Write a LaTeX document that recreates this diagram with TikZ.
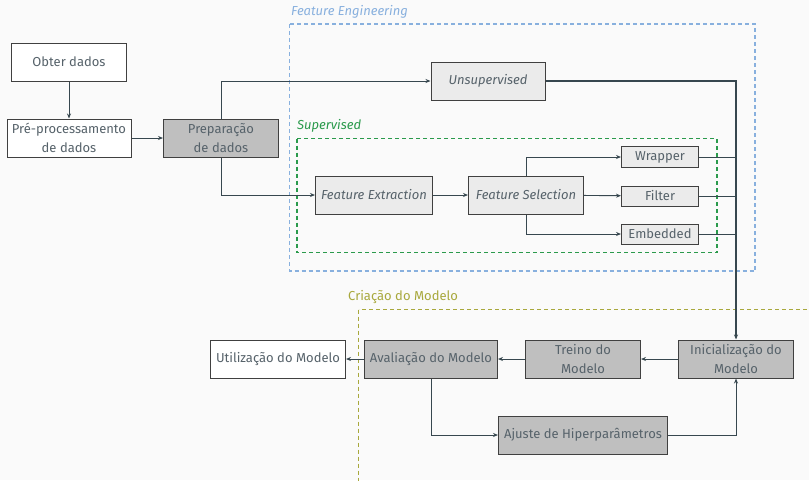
\documentclass[tikz,border=0pt]{standalone}
\usepackage{fontspec}
\setmainfont{Fira Sans}
\usetikzlibrary{arrows.meta}
\definecolor{bgc}{HTML}{FAFAFA}
\definecolor{txtc}{HTML}{56626A}
\definecolor{linec}{HTML}{37474F}
\definecolor{darkbox}{HTML}{BFBFBF}
\definecolor{lightbox}{HTML}{EBEBEB}
\definecolor{feblue}{HTML}{88B0DE}
\definecolor{supgreen}{HTML}{2A9A4C}
\definecolor{modolive}{HTML}{A8A83C}
\begin{document}
\begin{tikzpicture}[x=1pt, y=-1pt,
    every node/.style={font=\fontsize{13}{18.5}\selectfont, text=txtc},
    block/.style={draw=black!75, line width=1pt, align=center, inner sep=1pt,
                  minimum width=115pt, minimum height=38pt},
    plain/.style={block, fill=white},
    dark/.style={block, fill=darkbox},
    light/.style={block, fill=lightbox, font=\fontsize{13}{18.5}\selectfont\itshape},
    small/.style={block, fill=lightbox, minimum width=77pt, minimum height=20pt},
    conn/.style={draw=linec, line width=0.9pt},
    arr/.style={conn, -{Stealth[length=5pt, width=4pt]}},
    groupbox/.style={line width=1.1pt, dash pattern=on 4pt off 3pt}]
    \clip (0,0) rectangle (809,480);
    \fill[bgc] (0,0) rectangle (809,480);

    % Group frames
    \draw[groupbox, draw=feblue] (289.5,24) rectangle (755,271);
    \node[anchor=west, text=feblue, font=\fontsize{13}{18.5}\selectfont\itshape, inner sep=0pt] (felabel) at (291,12) {Feature Engineering};
    \draw[groupbox, draw=supgreen] (297,138.5) rectangle (717,252.5);
    \node[anchor=west, text=supgreen, font=\fontsize{13}{18.5}\selectfont\itshape, inner sep=0pt] (suplabel) at (297,126) {Supervised};
    \draw[groupbox, draw=modolive] (358.5,309.5) rectangle (840,500);
    \node[anchor=west, text=modolive, inner sep=0pt] (modlabel) at (348,297) {Criação do Modelo};

    % Data blocks
    \node[plain] (obter) at (69,62) {Obter dados};
    \node[plain, minimum width=124pt] (preproc) at (69,138) {Pré-processamento\\de dados};
    \node[dark] (prepar) at (221,138) {Preparação\\de dados};

    % Feature engineering blocks
    \node[light, minimum width=114pt] (unsup) at (488,81) {Unsupervised};
    \node[light, minimum width=117pt] (fext) at (374,195) {Feature Extraction};
    \node[light] (fsel) at (526,195) {Feature Selection};
    \node[small, minimum height=21pt] (wrap) at (660,157) {Wrapper};
    \node[small] (filt) at (660,196) {Filter};
    \node[small] (emb) at (660,234) {Embedded};

    % Model blocks
    \node[plain, minimum width=135pt] (util) at (278,359) {Utilização do Modelo};
    \node[dark, minimum width=133pt] (aval) at (431,359) {Avaliação do Modelo};
    \node[dark] (treino) at (583,359) {Treino do\\Modelo};
    \node[dark] (inic) at (736,359) {Inicialização do\\Modelo};
    \node[dark, minimum width=169pt] (ajuste) at (583,435) {Ajuste de Hiperparâmetros};

    % Data flow
    \draw[arr] (obter) -- (preproc);
    \draw[arr] (preproc) -- (prepar);
    \draw[arr] (prepar.north) |- (unsup.west);
    \draw[arr] (prepar.south) |- (fext.west);
    \draw[arr] (fext) -- (fsel);
    \draw[arr] (fsel.north) |- (wrap.west);
    \draw[arr] (fsel) -- (filt);
    \draw[arr] (fsel.south) |- (emb.west);

    % Collecting bus
    \draw[arr, line width=1.2pt] (unsup.east) -| (inic.north);
    \draw[conn] (wrap.east) -- (wrap.east -| inic.north);
    \draw[conn] (filt.east) -- (filt.east -| inic.north);
    \draw[conn] (emb.east) -- (emb.east -| inic.north);

    % Model loop
    \draw[arr] (inic) -- (treino);
    \draw[arr] (treino) -- (aval);
    \draw[arr] (aval) -- (util);
    \draw[arr] (aval.south) |- (ajuste.west);
    \draw[arr] (ajuste.east) -| (inic.south);
\end{tikzpicture}
\end{document}
